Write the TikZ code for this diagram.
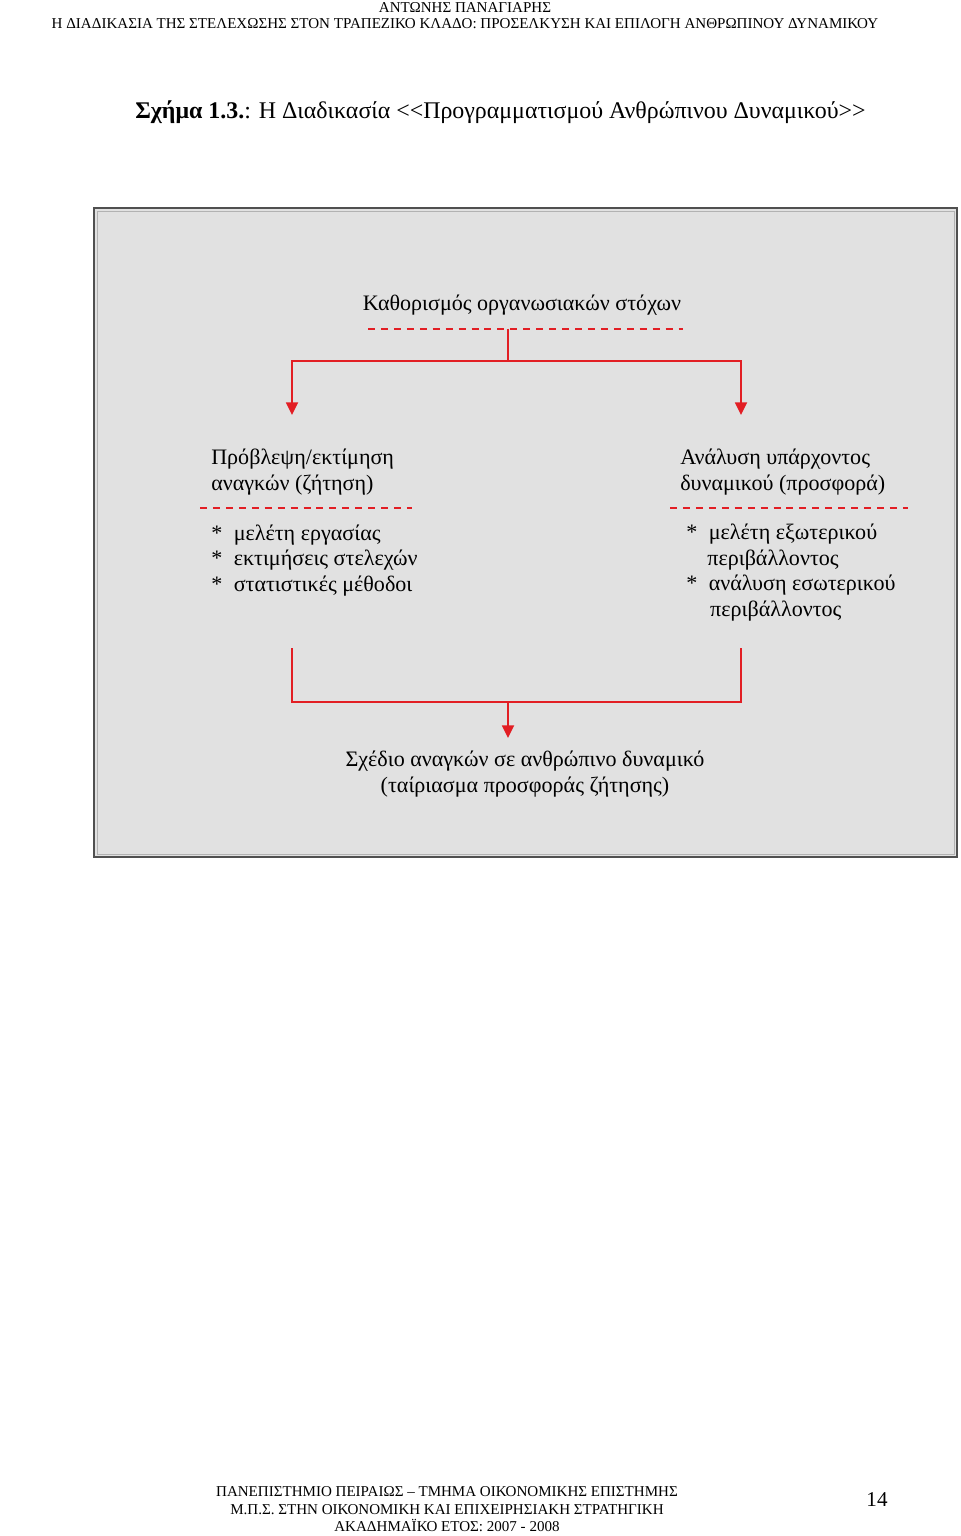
\documentclass[tikz,border=0pt]{standalone}
\usepackage{fontspec}
\setmainfont{Liberation Serif}
\usetikzlibrary{
		arrows.meta,
		positioning
	}
\definecolor{linered}{RGB}{226,30,36}
\definecolor{boxgray}{RGB}{225,225,225}
\definecolor{rimgray}{RGB}{80,80,80}
\tikzset{
		>={Triangle[length=9pt,width=8.5pt]},
		redline/.style={draw=linered, line width=1.4pt},
		reddash/.style={draw=linered, line width=1.5pt, dash pattern=on 5pt off 4.2pt},
		boxtext/.style={font=\fontsize{15.7}{18.1}\selectfont, inner sep=0pt, align=left}
	}
\newcommand{\ldraw}{linered}
\newcommand{\itm}{\makebox[16pt][l]{*}}

\begin{document}
\begin{tikzpicture}[x=0.025cm,y=-0.025cm]
		\useasboundingbox (0,0) rectangle (960,1536);
		% page header and caption
		\node[font=\fontsize{10.7}{11.4}\selectfont, align=center, anchor=base, inner sep=0pt] (head) at (465,29)
			{ΑΝΤΩΝΗΣ ΠΑΝΑΓΙΑΡΗΣ\\Η ΔΙΑΔΙΚΑΣΙΑ ΤΗΣ ΣΤΕΛΕΧΩΣΗΣ ΣΤΟΝ ΤΡΑΠΕΖΙΚΟ ΚΛΑΔΟ: ΠΡΟΣΕΛΚΥΣΗ ΚΑΙ ΕΠΙΛΟΓΗ ΑΝΘΡΩΠΙΝΟΥ ΔΥΝΑΜΙΚΟΥ};
		\node[font=\fontsize{17}{20}\selectfont, anchor=base west, inner sep=0pt] (title) at (135,119)
			{\textbf{Σχήμα 1.3.}: Η Διαδικασία {<}{<}Προγραμματισμού Ανθρώπινου Δυναμικού{>}{>}};
		% grey frame
		\draw[rimgray, line width=1.5pt, fill=boxgray] (94,208) rectangle (957,857);
		\draw[gray!60, line width=0.6pt] (97,211) rectangle (954,854);
		% goals and the split
		\node[boxtext, anchor=base] (goal) at (522,311) {Καθορισμός οργανωσιακών στόχων};
		\coordinate (gl) at (368,329);
		\coordinate (gr) at (683,329);
		\coordinate (gm) at (508,329);
		\coordinate (jt) at (508,361);
		\coordinate (al) at (292,415);
		\coordinate (ar) at (741,415);
		\draw[reddash] (gl) -- (gr);
		\draw[redline] (gm) -- (jt);
		\draw[redline, ->] (jt) -| (al);
		\draw[redline, ->] (jt) -| (ar);
		% demand side
		\node[boxtext, anchor=base west] (demand) at (211,490) {Πρόβλεψη/εκτίμηση\\αναγκών (ζήτηση)};
		\coordinate (dl) at (200,508);
		\coordinate (dr) at (412,508);
		\draw[reddash] (dl) -- (dr);
		\node[boxtext, anchor=base west] (dtools) at (211,591)
			{\itm μελέτη εργασίας\\\itm εκτιμήσεις στελεχών\\\itm στατιστικές μέθοδοι};
		% supply side
		\node[boxtext, anchor=base west] (supply) at (680,490) {Ανάλυση υπάρχοντος\\δυναμικού (προσφορά)};
		\coordinate (sl) at (670,508);
		\coordinate (sr) at (908,508);
		\draw[reddash] (sl) -- (sr);
		\node[boxtext, anchor=base west] (stools) at (686,616)
			{\itm μελέτη εξωτερικού\\\hspace{15pt}περιβάλλοντος\\\itm ανάλυση εσωτερικού\\\hspace{17pt}περιβάλλοντος};
		% merge into the plan
		\coordinate (bl) at (292,648);
		\coordinate (br) at (741,648);
		\coordinate (cl) at (292,702);
		\coordinate (cr) at (741,702);
		\coordinate (bm) at (508,702);
		\coordinate (pl) at (508,738);
		\draw[redline] (bl) -- (cl) -- (cr) -- (br);
		\draw[redline, ->] (bm) -- (pl);
		\node[boxtext, align=center, anchor=base] (plan) at (525,792)
			{Σχέδιο αναγκών σε ανθρώπινο δυναμικό\\(ταίριασμα προσφοράς ζήτησης)};
		% page footer
		\node[font=\fontsize{10.7}{12.1}\selectfont, align=center, anchor=base, inner sep=0pt] (foot) at (447,1531)
			{ΠΑΝΕΠΙΣΤΗΜΙΟ ΠΕΙΡΑΙΩΣ – ΤΜΗΜΑ ΟΙΚΟΝΟΜΙΚΗΣ ΕΠΙΣΤΗΜΗΣ\\Μ.Π.Σ. ΣΤΗΝ ΟΙΚΟΝΟΜΙΚΗ ΚΑΙ ΕΠΙΧΕΙΡΗΣΙΑΚΗ ΣΤΡΑΤΗΓΙΚΗ\\ΑΚΑΔΗΜΑΪΚΟ ΕΤΟΣ: 2007 - 2008};
		\node[font=\fontsize{15}{18}\selectfont, anchor=base, inner sep=0pt] (page) at (877,1506) {14};
	\end{tikzpicture}
\end{document}
